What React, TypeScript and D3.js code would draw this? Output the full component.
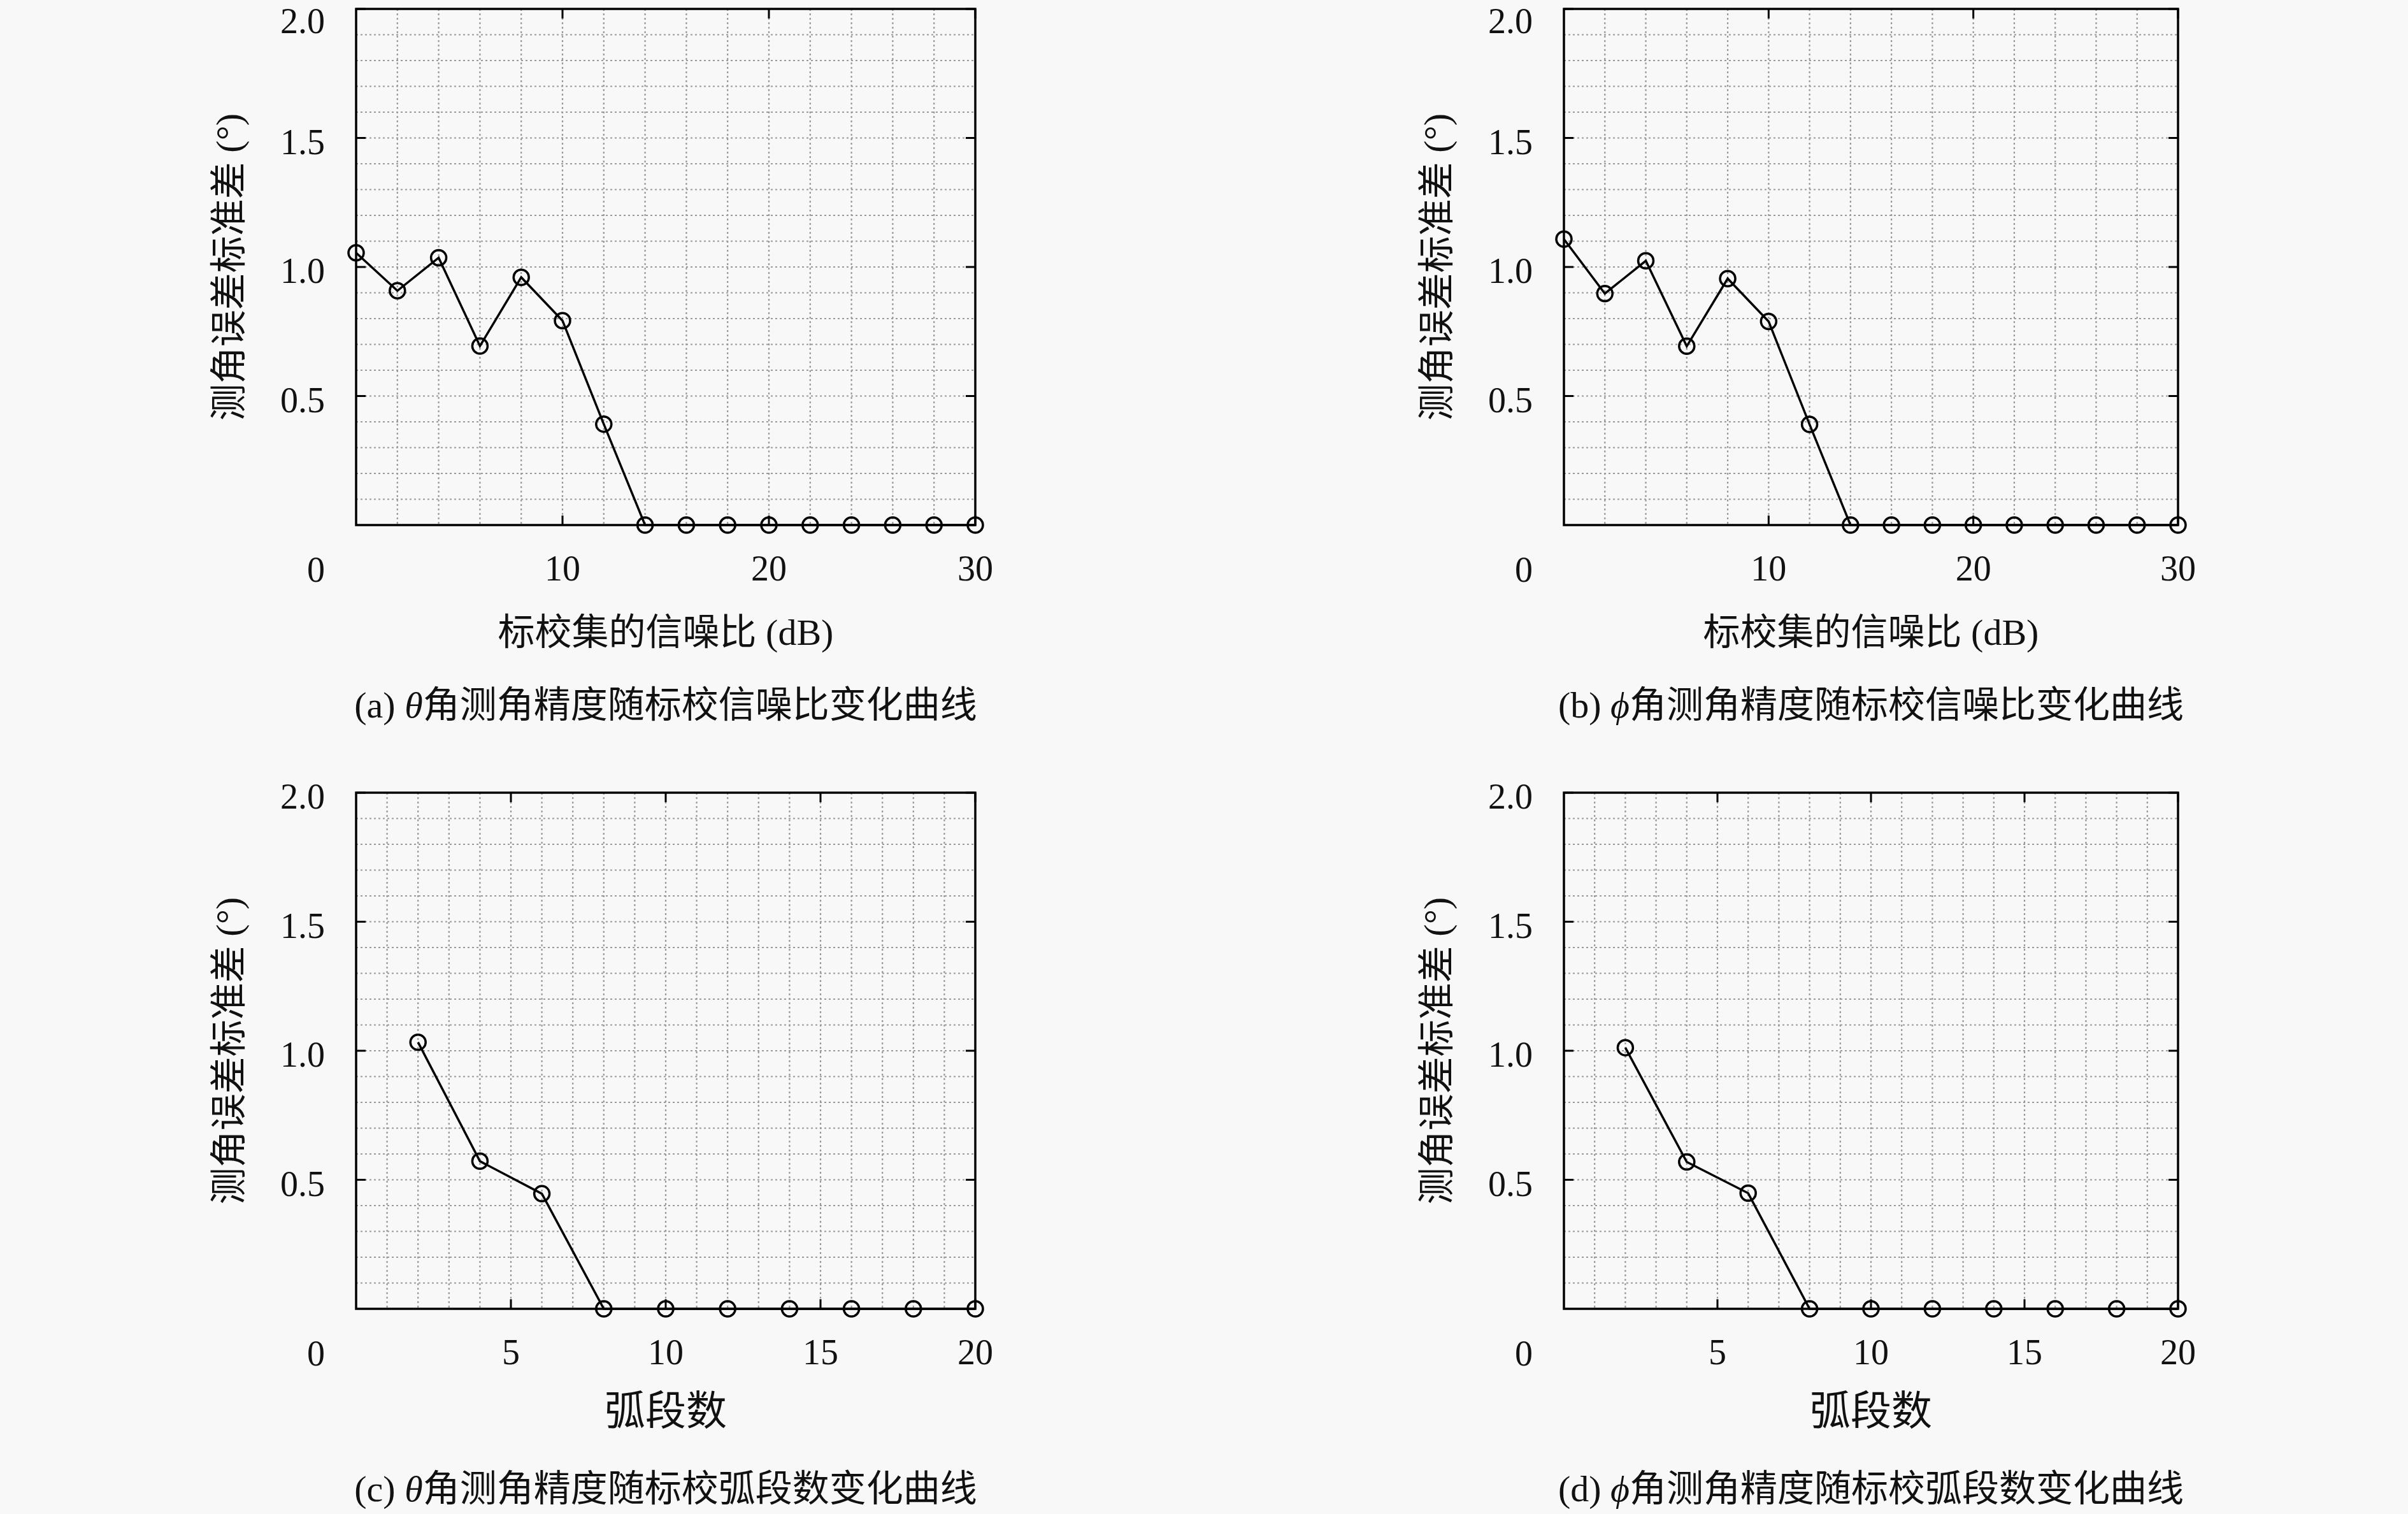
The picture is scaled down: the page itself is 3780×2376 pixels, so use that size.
import React from 'react'
import * as d3 from 'd3'

// SNR sweep (dB) and arc-count sweep
const snrValues = [0, 2, 4, 6, 8, 10, 12, 14, 16, 18, 20, 22, 24, 26, 28, 30]
const thetaBySnr = [1.055, 0.908, 1.036, 0.694, 0.96, 0.792, 0.391, 0, 0, 0, 0, 0, 0, 0, 0, 0]
const phiBySnr = [1.108, 0.897, 1.024, 0.693, 0.955, 0.789, 0.39, 0, 0, 0, 0, 0, 0, 0, 0, 0]

const arcCounts = [2, 4, 6, 8, 10, 12, 14, 16, 18, 20]
const thetaByArc = [1.033, 0.572, 0.446, 0, 0, 0, 0, 0, 0, 0]
const phiByArc = [1.012, 0.569, 0.448, 0, 0, 0, 0, 0, 0, 0]

const yTickValues = [0.5, 1.0, 1.5, 2.0]
const snrTickValues = [10, 20, 30]
const arcTickValues = [5, 10, 15, 20]

const yTitle = '测角误差标准差 (°)'
const snrTitle = '标校集的信噪比 (dB)'
const arcTitle = '弧段数'

const serif = "'Liberation Serif', 'Noto Sans CJK SC', serif"

type PanelProps = {
    x0: number
    x1: number
    y0: number
    y1: number
    xs: number[]
    ys: number[]
    xMax: number
    xGridStep: number
    xTicks: number[]
    xTitle: string
    xTitleSize: number
    xTitleOffset: number
    tag: string
    sym: string
    captionRest: string
}

const Panel = (p: PanelProps) => {
    const x = d3.scaleLinear().domain([0, p.xMax]).range([p.x0, p.x1])
    const y = d3.scaleLinear().domain([0, 2]).range([p.y1, p.y0])

    const xGrid = d3.range(p.xGridStep, p.xMax, p.xGridStep)
    const yGrid = d3.range(1, 20).map(i => i / 10)

    const line = d3.line<number>()
        .x((d, i) => x(p.xs[i]))
        .y(d => y(d))

    const tick = 15
    const cx = (p.x0 + p.x1) / 2

    return (
        <g>
            {/* dotted grid */}
            <g stroke="#9a9a9a" strokeWidth={2.2} strokeDasharray="3,4">
                {xGrid.map(v => (
                    <line key={'gx' + v} x1={x(v)} x2={x(v)} y1={p.y0} y2={p.y1} />
                ))}
                {yGrid.map(v => (
                    <line key={'gy' + v} x1={p.x0} x2={p.x1} y1={y(v)} y2={y(v)} />
                ))}
            </g>

            {/* frame */}
            <rect x={p.x0} y={p.y0} width={p.x1 - p.x0} height={p.y1 - p.y0}
                fill="none" stroke="#000" strokeWidth={3.5} />

            {/* inward ticks */}
            <g stroke="#000" strokeWidth={3}>
                {yTickValues.map(v => (
                    <g key={'ty' + v}>
                        <line x1={p.x0} x2={p.x0 + tick} y1={y(v)} y2={y(v)} />
                        <line x1={p.x1} x2={p.x1 - tick} y1={y(v)} y2={y(v)} />
                    </g>
                ))}
                {p.xTicks.map(v => (
                    <g key={'tx' + v}>
                        <line x1={x(v)} x2={x(v)} y1={p.y1} y2={p.y1 - tick} />
                        <line x1={x(v)} x2={x(v)} y1={p.y0} y2={p.y0 + tick} />
                    </g>
                ))}
            </g>

            {/* data */}
            <path d={line(p.ys) || ''} fill="none" stroke="#000" strokeWidth={3.5} />
            {p.ys.map((v, i) => (
                <circle key={'c' + i} cx={x(p.xs[i])} cy={y(v)} r={12}
                    fill="none" stroke="#000" strokeWidth={3.5} />
            ))}

            {/* tick labels */}
            <g fontFamily={serif} fontSize={56} fill="#111">
                {yTickValues.map(v => (
                    <text key={'ly' + v} x={p.x0 - 49} y={Math.max(y(v) + 25, 52)} textAnchor="end">
                        {v.toFixed(1)}
                    </text>
                ))}
                <text x={p.x0 - 49} y={p.y1 + 89} textAnchor="end">0</text>
                {p.xTicks.map(v => (
                    <text key={'lx' + v} x={x(v)} y={p.y1 + 87} textAnchor="middle">{v}</text>
                ))}
            </g>

            {/* axis titles */}
            <text transform={`translate(${p.x0 - 180},${(p.y0 + p.y1) / 2}) rotate(-90)`}
                textAnchor="middle" fontFamily={serif} fontSize={58} fill="#111">
                {yTitle}
            </text>
            <text x={cx} y={p.y1 + p.xTitleOffset} textAnchor="middle"
                fontFamily={serif} fontSize={p.xTitleSize} fill="#111">
                {p.xTitle}
            </text>

            {/* caption */}
            <text x={cx} y={p.y1 + 302} textAnchor="middle" fontFamily={serif} fontSize={58} fill="#111">
                {p.tag + ' '}
                <tspan fontStyle="italic">{p.sym}</tspan>
                {p.captionRest}
            </text>
        </g>
    )
}

const App = () => {
    const left = { x0: 559, x1: 1531 }
    const right = { x0: 2455, x1: 3419 }
    const top = { y0: 14, y1: 824 }
    const bottom = { y0: 1244, y1: 2054 }

    return (
        <svg width={3780} height={2376}
            style={{ position: 'absolute', left: 0, top: 0, background: '#f8f8f8' }}>
            <Panel {...left} {...top} xs={snrValues} ys={thetaBySnr} xMax={30} xGridStep={2}
                xTicks={snrTickValues} xTitle={snrTitle} xTitleSize={58} xTitleOffset={188}
                tag="(a)" sym="θ" captionRest="角测角精度随标校信噪比变化曲线" />
            <Panel {...right} {...top} xs={snrValues} ys={phiBySnr} xMax={30} xGridStep={2}
                xTicks={snrTickValues} xTitle={snrTitle} xTitleSize={58} xTitleOffset={188}
                tag="(b)" sym="ϕ" captionRest="角测角精度随标校信噪比变化曲线" />
            <Panel {...left} {...bottom} xs={arcCounts} ys={thetaByArc} xMax={20} xGridStep={1}
                xTicks={arcTickValues} xTitle={arcTitle} xTitleSize={64} xTitleOffset={182}
                tag="(c)" sym="θ" captionRest="角测角精度随标校弧段数变化曲线" />
            <Panel {...right} {...bottom} xs={arcCounts} ys={phiByArc} xMax={20} xGridStep={1}
                xTicks={arcTickValues} xTitle={arcTitle} xTitleSize={64} xTitleOffset={182}
                tag="(d)" sym="ϕ" captionRest="角测角精度随标校弧段数变化曲线" />
        </svg>
    )
}

export default App
